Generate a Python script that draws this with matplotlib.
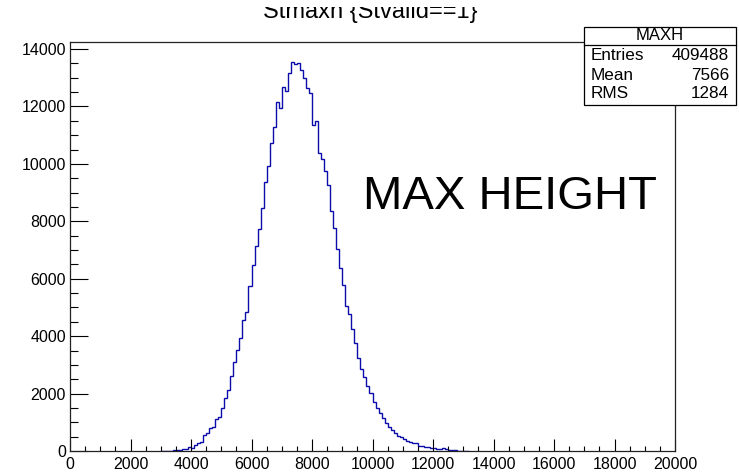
import matplotlib
matplotlib.use("Agg")
import matplotlib.pyplot as plt
import numpy as np
from matplotlib.ticker import MultipleLocator
from matplotlib.patches import Rectangle
from matplotlib.lines import Line2D

plt.rcParams["font.family"] = ["Liberation Sans", "DejaVu Sans"]

# histogram contents, 100-wide bins starting at 3000
bin_start = 3000
bin_width = 100
counts = [
    0, 5, 10, 15, 20, 35, 40, 70, 80, 145,
    120, 209, 290, 325, 557, 638, 790, 825, 1115, 1196,
    1509, 1834, 2125, 2600, 3110, 3518, 3925, 4560, 4852, 5758,
    6478, 7151, 7732, 8452, 9380, 9927, 10717, 11296, 12145, 11936,
    12689, 12539, 13177, 13560, 13485, 13525, 13270, 13003, 12632, 12480,
    11355, 11494, 10368, 10159, 9752, 9265, 8370, 7757, 7025, 6363,
    5782, 5050, 4780, 4238, 3751, 3250, 2856, 2589, 2264, 2031,
    1718, 1486, 1312, 1138, 965, 825, 731, 638, 522, 476,
    406, 360, 325, 290, 267, 186, 170, 150, 140, 115,
    105, 70, 80, 105, 70, 35, 20, 20, 15, 15,
    10, 10,
]
stat_names = ["Entries", "Mean", "RMS"]
stat_values = ["409488", "7566", "1284"]
hist_name = "MAXH"
title = "Stmaxh {Stvalid==1}"
label = "MAX HEIGHT"

W, H = 739, 473
fig = plt.figure(figsize=(W / 100, H / 100), dpi=100)


def fx(x):
    return x / W


def fy(y):
    return 1 - y / H


ax = fig.add_axes([fx(70), fy(451), fx(675) - fx(70), fy(42) - fy(451)])
edges = bin_start + bin_width * np.arange(len(counts) + 1)
ax.stairs(counts, edges, color="#0c0caa", lw=1.0)
ax.set_xlim(0, 20000)
ax.set_ylim(0, 14245)

ax.xaxis.set_major_locator(MultipleLocator(2000))
ax.xaxis.set_minor_locator(MultipleLocator(500))
ax.yaxis.set_major_locator(MultipleLocator(2000))
ax.yaxis.set_minor_locator(MultipleLocator(500))
ax.tick_params(axis="x", which="major", direction="in", length=8.6, width=0.8,
               labelsize=11.5, pad=4)
ax.tick_params(axis="x", which="minor", direction="in", length=3.6, width=0.8)
ax.tick_params(axis="y", which="major", direction="in", length=13, width=0.8,
               labelsize=11.5, pad=3)
ax.tick_params(axis="y", which="minor", direction="in", length=5.8, width=0.8)
for s in ax.spines.values():
    s.set_linewidth(0.9)
    s.set_color("#222222")

# title, clipped at top like the original
fig.text(fx(370), fy(18), title, ha="center", va="baseline", fontsize=17)
fig.patches.append(Rectangle((0, fy(7)), 1, 1 - fy(7), transform=fig.transFigure,
                             facecolor="white", edgecolor="none", zorder=5))

# stats box
box_l, box_r, box_t, box_b = 584, 736, 27, 105
fig.patches.append(Rectangle((fx(box_l), fy(box_b)), fx(box_r) - fx(box_l),
                             fy(box_t) - fy(box_b), transform=fig.transFigure,
                             facecolor="white", edgecolor="black", lw=0.9, zorder=3))
fig.lines.append(Line2D([fx(box_l), fx(box_r)], [fy(45), fy(45)],
                        transform=fig.transFigure, color="black", lw=0.9, zorder=4))
fig.text(fx((box_l + box_r) / 2), fy(36), hist_name, ha="center", va="center",
         fontsize=12, zorder=4)
for i, (n, v) in enumerate(zip(stat_names, stat_values)):
    yy = 56 + 19 * i
    fig.text(fx(591), fy(yy), n, ha="left", va="center", fontsize=12.3, zorder=4)
    fig.text(fx(729), fy(yy), v, ha="right", va="center", fontsize=12.3, zorder=4)

fig.text(fx(363), fy(209), label, ha="left", va="baseline", fontsize=34)

fig.savefig("out.png", dpi=100)
